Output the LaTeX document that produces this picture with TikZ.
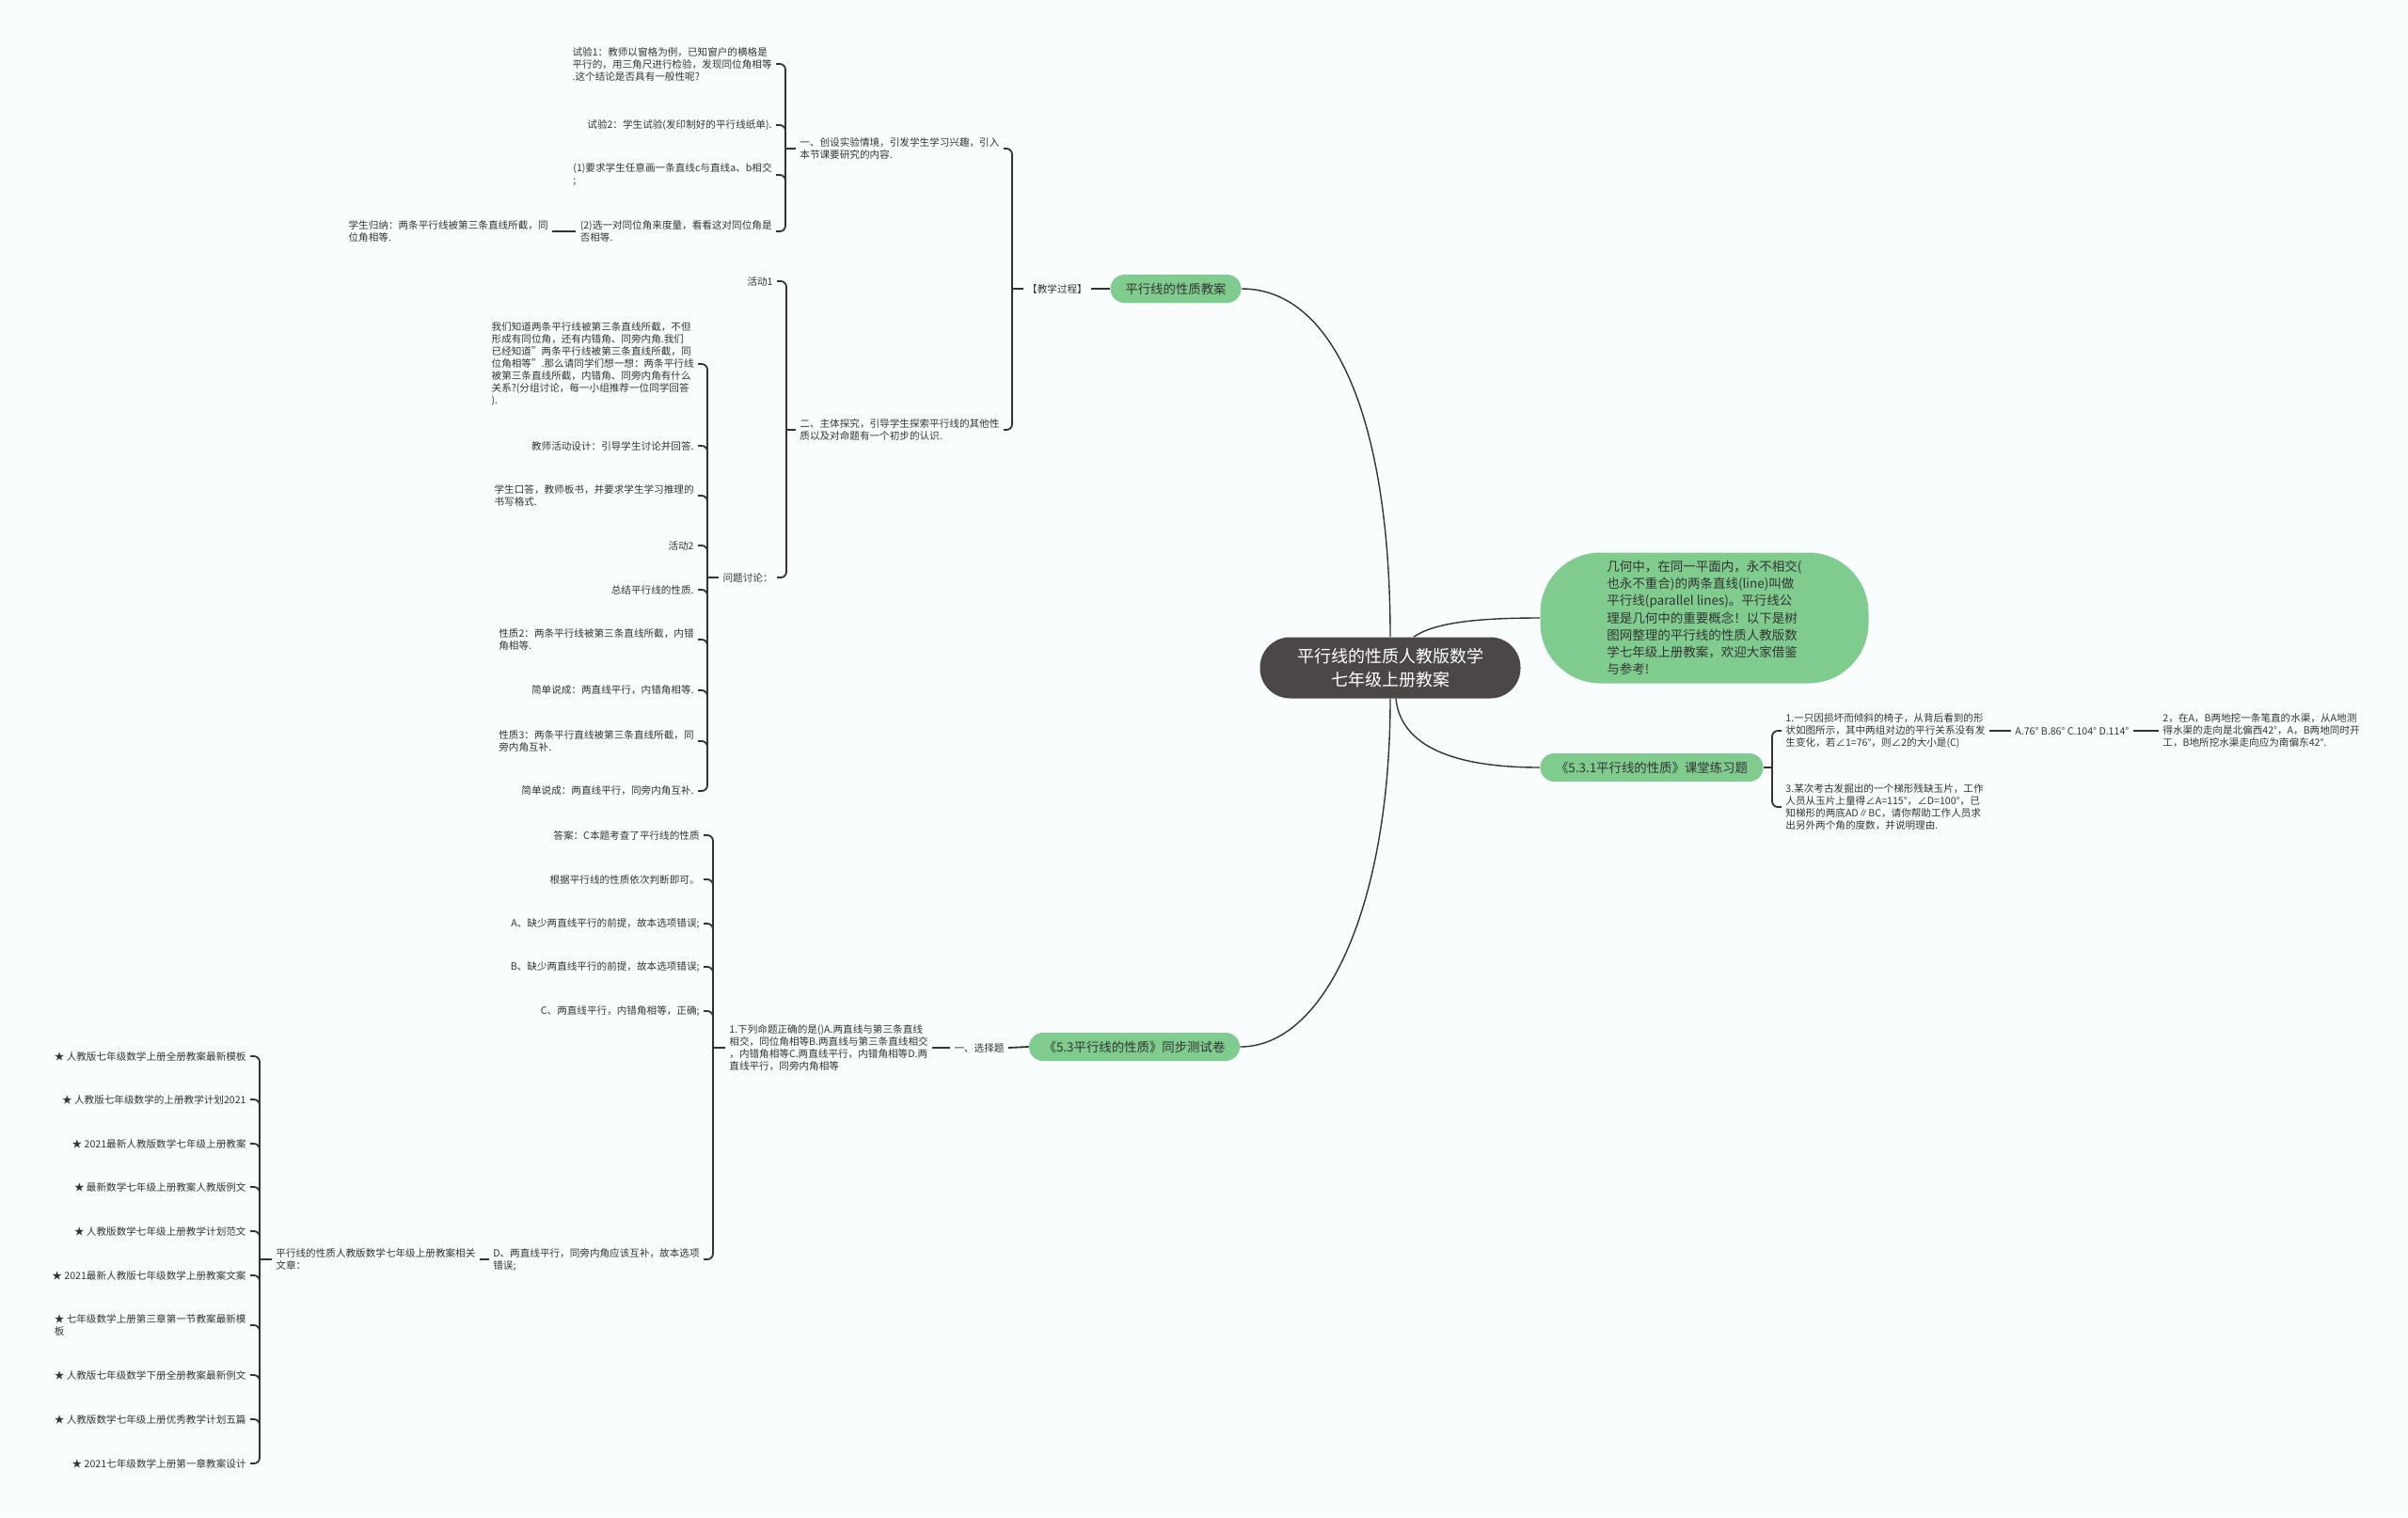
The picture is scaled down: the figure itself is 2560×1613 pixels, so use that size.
\documentclass[tikz,border=0pt]{standalone}
\usepackage{fontspec}
\setmainfont{Noto Sans CJK SC}
\usetikzlibrary{calc}
\definecolor{bg}{HTML}{FAFDFE}
\definecolor{gr}{HTML}{80CC8F}
\definecolor{dk}{HTML}{4B4747}
\definecolor{ink}{HTML}{333333}
\begin{document}
\begin{tikzpicture}[x=0.5pt,y=-0.5pt,
 lf/.style={font=\fontsize{5.3pt}{6.5pt}\selectfont, text=ink, inner sep=2pt, align=left},
 gnode/.style={fill=gr, rounded corners=7.5pt, font=\fontsize{6.7pt}{8pt}\selectfont, text=ink, minimum height=15pt, inner xsep=4pt},
 brk/.style={draw=ink, line width=0.9pt, rounded corners=3pt},
 crv/.style={draw=ink, line width=0.7pt}
]
\fill[bg] (0,0) rectangle (2560,1613);
\useasboundingbox (0,0) rectangle (2560,1613);

% root and first level
\node[fill=dk, text=white, rounded corners=16pt, minimum width=138.5pt, minimum height=32.5pt, align=center, font=\fontsize{9pt}{12.25pt}\selectfont] (root) at (1478,710) {平行线的性质人教版数学\\七年级上册教案};
\node[fill=gr, rounded corners=32pt, minimum width=174.5pt, minimum height=69.5pt, align=left, text=ink, font=\fontsize{6.75pt}{9.1pt}\selectfont] (intro) at (1812,657) {几何中，在同一平面内，永不相交(\\也永不重合)的两条直线(line)叫做\\平行线(parallel lines)。平行线公\\理是几何中的重要概念！以下是树\\图网整理的平行线的性质人教版数\\学七年级上册教案，欢迎大家借鉴\\与参考!};
\node[gnode, minimum width=69.5pt] (g1) at (1250,307) {平行线的性质教案};
\node[gnode, minimum width=112pt] (g2) at (1206,1113) {《5.3平行线的性质》同步测试卷};
\node[gnode, minimum width=118.5pt] (g3) at (1756,816) {《5.3.1平行线的性质》课堂练习题};

\draw[crv] (g1.east) .. controls (1420,307) and (1478,450) .. (root.north);
\draw[crv] (root.south) .. controls (1478,960) and (1410,1113) .. (g2.east);
\draw[crv] ([xshift=3pt]root.south) .. controls (1490,800) and (1560,816) .. (g3.west);
\draw[crv] ([xshift=12.5pt]root.north) .. controls (1525,662) and (1570,657) .. (intro.west);

% ---------- branch 1 ----------
\node[lf] (tb) at (1124,307) {【教学过程】};
\draw[brk] (tb.east) -- (g1.west);
\coordinate (bB) at (1076,0);
\node[lf, anchor=west] (nA) at (846,158) {一、创设实验情境，引发学生学习兴趣，引入\\本节课要研究的内容.};
\node[lf, anchor=west] (nC) at (846,457) {二、主体探究，引导学生探索平行线的其他性\\质以及对命题有一个初步的认识.};
\draw[brk] (nA.east) -| (nC.east -| bB) -- (nC.east);
\draw[brk] (tb.west) -- (tb.west -| bB);

% group A
\coordinate (bA) at (835,0);
\node[lf, anchor=east] (a1) at (825,68) {试验1：教师以窗格为例，已知窗户的横格是\\平行的，用三角尺进行检验，发现同位角相等\\.这个结论是否具有一般性呢?};
\node[lf, anchor=east] (a2) at (825,133) {试验2：学生试验(发印制好的平行线纸单).};
\node[lf, anchor=east] (a3) at (825,186) {(1)要求学生任意画一条直线c与直线a、b相交\\;};
\node[lf, anchor=east] (a4) at (825,246) {(2)选一对同位角来度量，看看这对同位角是\\否相等.};
\draw[brk] (a1.east) -| (a4.east -| bA) -- (a4.east);
\draw[brk] (a2.east) -| ($(a2.east -| bA)+(0,7)$);
\draw[brk] (a3.east) -| ($(a3.east -| bA)+(0,7)$);
\draw[brk] (nA.west) -- (nA.west -| bA);
\node[lf, anchor=east] (s1) at (587,246) {学生归纳：两条平行线被第三条直线所截，同\\位角相等.};
\draw[brk] (s1.east) -- (a4.west);

% group C
\coordinate (bC) at (836,0);
\node[lf, anchor=east] (c1) at (826,299) {活动1};
\node[lf, anchor=east] (c2) at (826,614) {问题讨论：};
\draw[brk] (c1.east) -| (c2.east -| bC) -- (c2.east);
\draw[brk] (nC.west) -- (nC.west -| bC);

% group D
\coordinate (bD) at (752,0);
\node[lf, anchor=east] (d1) at (742,387) {我们知道两条平行线被第三条直线所截，不但\\形成有同位角，还有内错角、同旁内角.我们\\已经知道"两条平行线被第三条直线所截，同\\位角相等".那么请同学们想一想：两条平行线\\被第三条直线所截，内错角、同旁内角有什么\\关系?(分组讨论，每一小组推荐一位同学回答\\).};
\node[lf, anchor=east] (d2) at (742,474) {教师活动设计：引导学生讨论并回答.};
\node[lf, anchor=east] (d3) at (742,527) {学生口答，教师板书，并要求学生学习推理的\\书写格式.};
\node[lf, anchor=east] (d4) at (742,580) {活动2};
\node[lf, anchor=east] (d5) at (742,627) {总结平行线的性质.};
\node[lf, anchor=east] (d6) at (742,680) {性质2：两条平行线被第三条直线所截，内错\\角相等.};
\node[lf, anchor=east] (d7) at (742,734) {简单说成：两直线平行，内错角相等.};
\node[lf, anchor=east] (d8) at (742,788) {性质3：两条平行直线被第三条直线所截，同\\旁内角互补.};
\node[lf, anchor=east] (d9) at (742,841) {简单说成：两直线平行，同旁内角互补.};
\draw[brk] (d1.east) -| (d9.east -| bD) -- (d9.east);
\foreach \n in {d2,d3,d4,d5,d6,d7,d8}
  \draw[brk] (\n.east) -| ($(\n.east -| bD)+(0,7)$);
\draw[brk] (c2.west) -- (c2.west -| bD);

% ---------- branch 2 (test paper) ----------
\node[lf] (xz) at (1041,1114) {一、选择题};
\draw[brk] (xz.east) -- (g2.west);
\node[lf, anchor=west] (q1) at (771,1114) {1.下列命题正确的是()A.两直线与第三条直线\\相交，同位角相等B.两直线与第三条直线相交\\，内错角相等C.两直线平行，内错角相等D.两\\直线平行，同旁内角相等};
\draw[brk] (q1.east) -- (xz.west);
\coordinate (bE) at (758,0);
\node[lf, anchor=east] (e1) at (748,888) {答案：C本题考查了平行线的性质};
\node[lf, anchor=east] (e2) at (748,935) {根据平行线的性质依次判断即可。};
\node[lf, anchor=east] (e3) at (748,982) {A、缺少两直线平行的前提，故本选项错误;};
\node[lf, anchor=east] (e4) at (748,1028) {B、缺少两直线平行的前提，故本选项错误;};
\node[lf, anchor=east] (e5) at (748,1075) {C、两直线平行，内错角相等，正确;};
\node[lf, anchor=east] (e6) at (748,1339) {D、两直线平行，同旁内角应该互补，故本选项\\错误;};
\draw[brk] (e1.east) -| (e6.east -| bE) -- (e6.east);
\foreach \n in {e2,e3,e4,e5}
  \draw[brk] (\n.east) -| ($(\n.east -| bE)+(0,7)$);
\draw[brk] (q1.west) -- (q1.west -| bE);

\node[lf, anchor=west] (fa) at (289,1339) {平行线的性质人教版数学七年级上册教案相关\\文章：};
\draw[brk] (fa.east) -- (e6.west);
\coordinate (bF) at (276,0);
\node[lf, anchor=east] (f1) at (266,1123) {★ 人教版七年级数学上册全册教案最新模板};
\node[lf, anchor=east] (f2) at (266,1169) {★ 人教版七年级数学的上册教学计划2021};
\node[lf, anchor=east] (f3) at (266,1216) {★ 2021最新人教版数学七年级上册教案};
\node[lf, anchor=east] (f4) at (266,1262) {★ 最新数学七年级上册教案人教版例文};
\node[lf, anchor=east] (f5) at (266,1309) {★ 人教版数学七年级上册教学计划范文};
\node[lf, anchor=east] (f6) at (266,1356) {★ 2021最新人教版七年级数学上册教案文案};
\node[lf, anchor=east] (f7) at (266,1409) {★ 七年级数学上册第三章第一节教案最新模\\板};
\node[lf, anchor=east] (f8) at (266,1462) {★ 人教版七年级数学下册全册教案最新例文};
\node[lf, anchor=east] (f9) at (266,1509) {★ 人教版数学七年级上册优秀教学计划五篇};
\node[lf, anchor=east] (f10) at (266,1556) {★ 2021七年级数学上册第一章教案设计};
\draw[brk] (f1.east) -| (f10.east -| bF) -- (f10.east);
\foreach \n in {f2,f3,f4,f5,f6,f7,f8,f9}
  \draw[brk] (\n.east) -| ($(\n.east -| bF)+(0,7)$);
\draw[brk] (fa.west) -- (fa.west -| bF);

% ---------- branch 3 (exercises) ----------
\coordinate (bG) at (1884,0);
\node[lf, anchor=west] (h1) at (1894,777) {1.一只因损坏而倾斜的椅子，从背后看到的形\\状如图所示，其中两组对边的平行关系没有发\\生变化，若∠1=76°，则∠2的大小是(C)};
\node[lf, anchor=west] (h3) at (1894,858) {3.某次考古发掘出的一个梯形残缺玉片，工作\\人员从玉片上量得∠A=115°，∠D=100°，已\\知梯形的两底AD∥BC，请你帮助工作人员求\\出另外两个角的度数，并说明理由.};
\draw[brk] (h1.west) -| (h3.west -| bG) -- (h3.west);
\draw[brk] (g3.east) -- (g3.east -| bG);
\node[lf, anchor=west] (h2) at (2138,777) {A.76° B.86° C.104° D.114°};
\draw[brk] (h1.east) -- (h2.west);
\node[lf, anchor=west] (h4) at (2295,777) {2，在A，B两地挖一条笔直的水渠，从A地测\\得水渠的走向是北偏西42°，A，B两地同时开\\工，B地所挖水渠走向应为南偏东42°.};
\draw[brk] (h2.east) -- (h4.west);
\end{tikzpicture}
\end{document}
